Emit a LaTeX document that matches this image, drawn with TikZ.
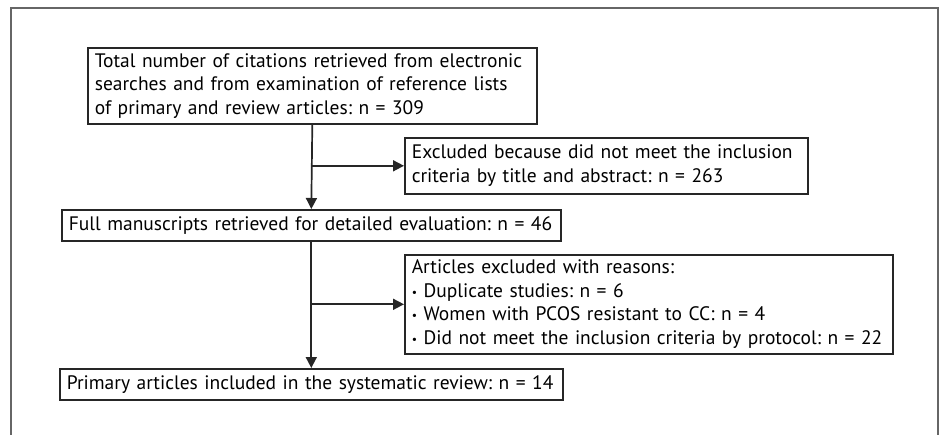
\documentclass[tikz,border=0pt]{standalone}
\usepackage{fontspec}
\setmainfont{PT Sans}
\usetikzlibrary{arrows.meta}
\newcommand{\itembul}{\raisebox{0.15ex}{\scalebox{0.6}{\textbullet}}\ }
\tikzset{
  stage/.style={draw=black!85, line width=1.6pt, anchor=north west, align=left,
    inner xsep=7pt, inner ysep=0pt, font=\fontsize{19.5}{23.5}\selectfont\frenchspacing},
  flow/.style={line width=1.7pt, draw=black!85, -{Triangle[length=11pt,width=11pt]}}
}
\begin{document}
\begin{tikzpicture}
  \useasboundingbox (0pt,0pt) rectangle (941pt,-435pt);
  % outer frame, open at the bottom
  \draw [black!60, line width=2.2pt] (11pt,-435pt) -- (11pt,-8pt) -- (938pt,-8pt) -- (938pt,-435pt);
  \node [stage, text width=435pt, minimum height=76pt] (total) at (87pt,-47pt)
    {Total number of citations retrieved from electronic\\searches and from examination of reference lists\\of primary and review articles: n = 309};
  \node [stage, text width=389pt, minimum height=56pt] (excl) at (404pt,-137pt)
    {Excluded because did not meet the inclusion\\criteria by title and abstract: n = 263};
  \node [stage, text width=485pt, minimum height=31pt] (full) at (61pt,-209pt)
    {Full manuscripts retrieved for detailed evaluation: n = 46};
  \node [stage, text width=474pt, minimum height=99pt] (reasons) at (404pt,-254pt)
    {Articles excluded with reasons:\\
     \itembul Duplicate studies: n = 6\\
     \itembul Women with PCOS resistant to CC: n = 4\\
     \itembul Did not meet the inclusion criteria by protocol: n = 22};
  \node [stage, text width=489pt, minimum height=31pt] (incl) at (59pt,-368pt)
    {Primary articles included in the systematic review: n = 14};
  \draw [flow] (total.south) -- (full.north);
  \draw [flow] (total.south |- excl.west) -- (excl.west);
  \draw [flow] (full.south) -- (incl.north);
  \draw [flow] (full.south |- reasons.west) -- (reasons.west);
\end{tikzpicture}
\end{document}
